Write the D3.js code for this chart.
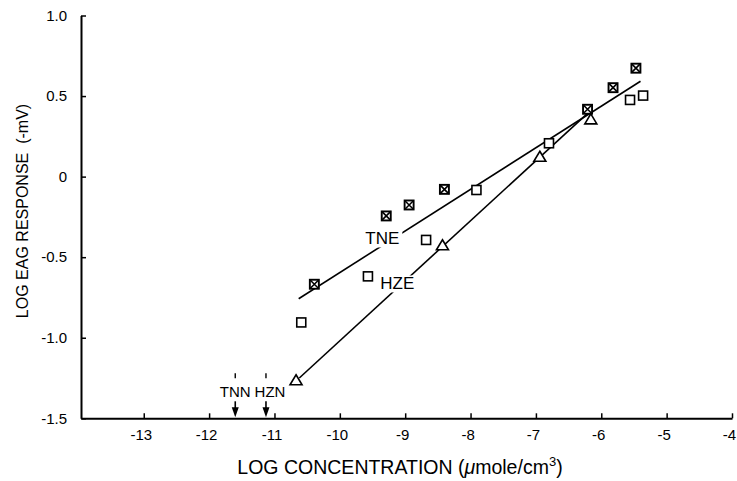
<!DOCTYPE html>
<html><head><meta charset="utf-8">
<script src="https://cdn.jsdelivr.net/npm/d3@7"></script>
<style>
html,body{margin:0;padding:0;background:#fff;}
svg{display:block;}
text{font-family:"Liberation Sans",Arial,Helvetica,sans-serif;fill:#000;}
</style></head>
<body>
<svg id="chart" width="737" height="481"></svg>
<script>
// ---- data ----
const xTicks = [-13,-12,-11,-10,-9,-8,-7,-6,-5,-4];
const xTickLabels = ["-13","-12","-11","-10","-9","-8","-7","-6","-5","-4"];
const yTicks = [-1.5,-1.0,-0.5,0,0.5,1.0];
const yTickLabels = ["-1.5","-1.0","-0.5","0","0.5","1.0"];

// TNE (crossed squares)
const tneX = [-10.39,-9.29,-8.94,-8.40,-6.21,-5.82,-5.47];
const tneY = [-0.668,-0.244,-0.176,-0.079,0.418,0.552,0.673];
// open squares
const sqX = [-10.59,-9.57,-8.68,-7.91,-6.80,-5.56,-5.36];
const sqY = [-0.905,-0.619,-0.393,-0.083,0.207,0.476,0.503];
// HZE (triangles)
const triX = [-10.67,-8.43,-6.94,-6.16];
const triY = [-1.267,-0.429,0.120,0.352];

// fitted lines (end points)
const tneLineX = [-10.63,-5.40];
const tneLineY = [-0.758,0.592];
const hzeLineX = [-10.62,-6.21];
const hzeLineY = [-1.25,0.393];

// line labels
const lineLabels = ["TNE","HZE"];
const lineLabelX = [-9.35,-9.12];
const lineLabelY = [-0.387,-0.666];

// threshold annotations
const threshLabels = ["TNN","HZN"];
const threshX = [-11.6,-11.13];

// ---- drawing ----
const svg = d3.select("#chart");
const x = d3.scaleLinear().domain([-13.96,-4]).range([81,732]);
const y = d3.scaleLinear().domain([-1.5,1.0]).range([418.3,15.5]);

// axes
const xAxis = d3.axisBottom(x).tickValues(xTicks)
  .tickFormat((d,i)=>xTickLabels[i]).tickSize(-5).tickSizeOuter(0).tickPadding(11.5);
const gx = svg.append("g").attr("transform",`translate(0,${y(-1.5)})`).call(xAxis);
gx.select(".domain").attr("stroke","#000").attr("stroke-width",2);
gx.selectAll(".tick line").attr("stroke","#000").attr("stroke-width",1.5);
gx.selectAll(".tick text").attr("font-size",15).attr("dx","-3")
  .style("font-family","'Liberation Sans',Arial,sans-serif");

const yAxis = d3.axisLeft(y).tickValues(yTicks)
  .tickFormat((d,i)=>yTickLabels[i]).tickSize(-5).tickSizeOuter(0).tickPadding(14);
const gy = svg.append("g").attr("transform",`translate(${x(-13.96)},0)`).call(yAxis);
gy.select(".domain").attr("stroke","#000").attr("stroke-width",2);
gy.selectAll(".tick line").attr("stroke","#000").attr("stroke-width",1.5);
gy.selectAll(".tick text").attr("font-size",15)
  .style("font-family","'Liberation Sans',Arial,sans-serif");

// axis titles
const xt = svg.append("text").attr("x",400).attr("y",474).attr("text-anchor","middle")
  .attr("font-size",19.5);
xt.append("tspan").text("LOG CONCENTRATION (");
xt.append("tspan").attr("font-style","italic").text("\u03BC");
xt.append("tspan").text("mole/cm");
xt.append("tspan").attr("dy",-8).attr("font-size",13).text("3");
xt.append("tspan").attr("dy",8).text(")");

svg.append("text").attr("transform","translate(28,211) rotate(-90)")
  .attr("text-anchor","middle").attr("font-size",16)
  .attr("xml:space","preserve").text("LOG EAG RESPONSE  (-mV)");

// fitted lines
const lineGen = d3.line().x(d=>x(d[0])).y(d=>y(d[1]));
svg.append("path").datum(tneLineX.map((v,i)=>[v,tneLineY[i]]))
  .attr("d",lineGen).attr("fill","none").attr("stroke","#000").attr("stroke-width",1.6);
svg.append("path").datum(hzeLineX.map((v,i)=>[v,hzeLineY[i]]))
  .attr("d",lineGen).attr("fill","none").attr("stroke","#000").attr("stroke-width",1.6);

// line labels with white backing
lineLabels.forEach((t,i)=>{
  const g = svg.append("g");
  const tx = g.append("text").attr("x",x(lineLabelX[i])).attr("y",y(lineLabelY[i]))
    .attr("text-anchor","middle").attr("dominant-baseline","central")
    .attr("font-size",17).text(t);
  const bb = tx.node().getBBox();
  g.insert("rect","text").attr("x",bb.x-3).attr("y",bb.y+1).attr("width",bb.width+6)
    .attr("height",bb.height-2).attr("fill","#fff");
});

// markers
const s = 9;
svg.append("g").selectAll("rect").data(sqX.map((v,i)=>[v,sqY[i]])).join("rect")
  .attr("x",d=>x(d[0])-s/2).attr("y",d=>y(d[1])-s/2).attr("width",s).attr("height",s)
  .attr("fill","#fff").attr("stroke","#000").attr("stroke-width",1.6);

const tg = svg.append("g").selectAll("g").data(tneX.map((v,i)=>[v,tneY[i]])).join("g")
  .attr("transform",d=>`translate(${x(d[0])},${y(d[1])})`);
tg.append("rect").attr("x",-s/2).attr("y",-s/2).attr("width",s).attr("height",s)
  .attr("fill","#fff").attr("stroke","#000").attr("stroke-width",1.9);
tg.append("path").attr("d",`M${-s/2},${-s/2}L${s/2},${s/2}M${s/2},${-s/2}L${-s/2},${s/2}`)
  .attr("stroke","#000").attr("stroke-width",1.6);

const tw = 12, th = 10;
svg.append("g").selectAll("path").data(triX.map((v,i)=>[v,triY[i]])).join("path")
  .attr("transform",d=>`translate(${x(d[0])},${y(d[1])})`)
  .attr("d",`M0,${-th*0.6}L${tw/2},${th*0.4}L${-tw/2},${th*0.4}Z`)
  .attr("fill","#fff").attr("stroke","#000").attr("stroke-width",1.6);

// threshold arrows
const base = y(-1.5);
threshLabels.forEach((t,i)=>{
  const ax = x(threshX[i]);
  svg.append("line").attr("x1",ax).attr("x2",ax).attr("y1",base-45).attr("y2",base-40)
    .attr("stroke","#000").attr("stroke-width",1.4);
  svg.append("text").attr("x",ax + (i===1?4:0)).attr("y",base-21.5)
    .attr("text-anchor","middle").attr("font-size",15).text(t);
  svg.append("line").attr("x1",ax).attr("x2",ax).attr("y1",base-17).attr("y2",base-8)
    .attr("stroke","#000").attr("stroke-width",1.6);
  svg.append("path").attr("d",`M${ax-3.5},${base-11}L${ax+3.5},${base-11}L${ax},${base-1}Z`)
    .attr("fill","#000");
});
</script>
</body></html>
